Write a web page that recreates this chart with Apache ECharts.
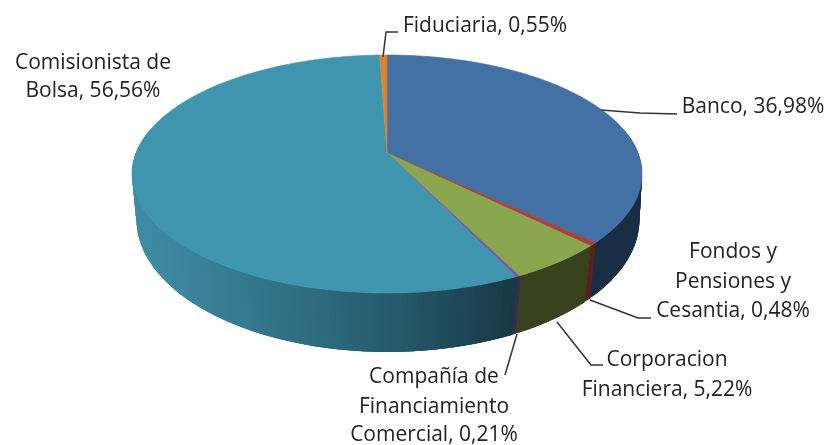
<!DOCTYPE html>
<html><head><meta charset="utf-8">
<style>html,body{margin:0;padding:0;background:#fff}#c{width:829px;height:445px}</style>
<script src="https://cdn.jsdelivr.net/npm/echarts@6/dist/echarts.min.js"></script>
</head><body><div id="c"></div>
<script>
// Data, clockwise from 12 o'clock
const categories = ['Banco','Fondos y Pensiones y Cesantia','Corporacion Financiera','Compañía de Financiamiento Comercial','Comisionista de Bolsa','Fiduciaria'];
const values = [36.98,0.48,5.22,0.21,56.56,0.55];
const labelLines = [
  ['Banco, 36,98%'],
  ['Fondos y','Pensiones y','Cesantia, 0,48%'],
  ['Corporacion','Financiera, 5,22%'],
  ['Compañía de','Financiamiento','Comercial, 0,21%'],
  ['Comisionista de','Bolsa, 56,56%'],
  ['Fiduciaria, 0,55%']
];
// Styling
const topColors = ['#4471A5','#A8423F','#8AA64E','#7A5C9E','#4095AE','#DC8231'];
const wallColors = ['#1A2E45','#5A1F1E','#38421F','#3A2A55',null,'#8A4F1C'];
const wallRamp = [[132,[63,141,167]],[300,[47,110,130]],[400,[37,89,106]],[518,[24,56,69]]];
// Layout of the perspective disc (top face and bottom face)
const T = {cx:387, cy:153, a:251, b:115.3, k:0.1765};
const B = {cx:388, cy:200.8, a:249, b:130, k:0.14};
const wallFrom = 78, wallTo = 282;
const labelPos = [
  {x:753,y:[107]},
  {x:733,y:[252,282,311]},
  {x:667,y:[360,390]},
  {x:434,y:[377,407,435]},
  {x:93,y:[63,91]},
  {x:485,y:[26]}
];
const leaders = [
  [[601,110],[640,113],[677,114]],
  [[590,300],[638,318],[651,318]],
  [[557,322],[591,365],[603,365]],
  [[517,334],[505,375]],
  [],
  [[383,57],[386,32],[398,32]]
];
const total = values.reduce((a,b)=>a+b,0);
function proj(R,deg){
  const t = deg*Math.PI/180, u = Math.sin(t), v = -Math.cos(t), d = 1-R.k*v;
  return [R.cx+R.a*u/d, R.cy+R.b*v/d];
}
function range(i){
  let start = 0;
  for(let j=0;j<i;j++) start += values[j]/total*360;
  return [start,start+values[i]/total*360];
}
function angles(i){
  const [start,end] = range(i), out=[];
  const n = Math.max(2,Math.ceil(end-start));
  for(let j=0;j<=n;j++) out.push(start+(end-start)*j/n);
  return out;
}
function rampColor(x){
  if(x<=wallRamp[0][0]) x=wallRamp[0][0];
  for(let j=1;j<wallRamp.length;j++){
    if(x<=wallRamp[j][0]){
      const a=wallRamp[j-1],b=wallRamp[j],f=(x-a[0])/(b[0]-a[0]);
      return 'rgb('+a[1].map((c,k)=>Math.round(c+(b[1][k]-c)*f)).join(',')+')';
    }
  }
  return 'rgb('+wallRamp[wallRamp.length-1][1].join(',')+')';
}
const data = values.map((v,i)=>[i,v]);
const chart = echarts.init(document.getElementById('c'),null,{renderer:'canvas'});
chart.setOption({
  animation:false,
  backgroundColor:'#fff',
  series:[
    {type:'custom',coordinateSystem:'none',silent:true,z:1,data:data,
     renderItem(params){
      const i=params.dataIndex, [s,e]=range(i), ch=[];
      const lo=Math.max(s-0.25,wallFrom), hi=Math.min(e,wallTo);
      if(hi<=lo) return {type:'group',children:ch};
      const n=Math.max(1,Math.ceil(hi-lo)), list=[];
      for(let j=0;j<=n;j++) list.push(lo+(hi-lo)*j/n);
      const order=[]; for(let j=0;j<n;j++) order.push(j);
      order.reverse().forEach(j=>{
        const a=list[Math.max(j-2,0)], b=list[j+1];
        const p=[proj(T,a),proj(T,b),proj(B,b),proj(B,a)];
        const fill=wallColors[i]||rampColor((proj(T,list[j])[0]+proj(T,b)[0])/2);
        ch.push({type:'polygon',shape:{points:p},style:{fill:fill}});
      });
      return {type:'group',children:ch};
     }},
    {type:'custom',coordinateSystem:'none',silent:true,z:2,data:data,
     renderItem(params){
      const i=params.dataIndex, c=topColors[i];
      const pts=[[T.cx,T.cy]].concat(angles(i).map(a=>proj(T,a)));
      return {type:'polygon',shape:{points:pts},style:{fill:c,stroke:c,lineWidth:0.6}};
     }},
    {type:'custom',coordinateSystem:'none',silent:true,z:3,data:data,
     renderItem(params){
      const i=params.dataIndex, ch=[];
      if(leaders[i].length) ch.push({type:'polyline',shape:{points:leaders[i]},style:{fill:null,stroke:'#333',lineWidth:1.5}});
      labelLines[i].forEach((t,j)=>ch.push({type:'text',style:{text:t,x:labelPos[i].x,y:labelPos[i].y[j],align:'center',verticalAlign:'middle',
        fill:'#222',font:'21px "Open Sans"'}}));
      return {type:'group',children:ch};
     }}
  ]
});
</script></body></html>
